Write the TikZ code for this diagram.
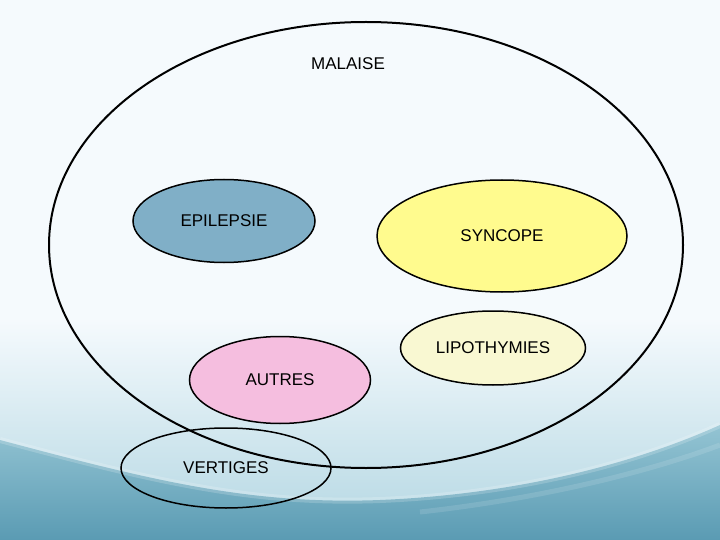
\documentclass[tikz,border=0pt]{standalone}
\usepackage{fontspec}
\setmainfont{Liberation Sans}
\usetikzlibrary{shapes.geometric}
\definecolor{bgtop}{HTML}{F5FAFD}
\definecolor{bgmid}{HTML}{B2D6E2}
\definecolor{wavetop}{HTML}{94C4D3}
\definecolor{wavebot}{HTML}{5A9BB3}
\definecolor{epicol}{HTML}{80AFC7}
\definecolor{syncol}{HTML}{FFFB8E}
\definecolor{lipcol}{HTML}{F9F8D2}
\definecolor{autcol}{HTML}{F5BEDF}
\tikzset{
  blob/.style={ellipse, draw=black, line width=1.5pt, inner sep=0pt, font=\fontsize{17}{20}\selectfont},
  lbl/.style={font=\fontsize{17}{20}\selectfont, inner sep=0pt}
}
\begin{document}
\begin{tikzpicture}[x=1pt,y=-1pt]
\useasboundingbox (0,0) rectangle (720,540);
% background
\fill[bgtop] (0,0) rectangle (720,320);
\shade[top color=bgtop, bottom color=bgmid] (0,320) rectangle (720,540);
\shade[top color=wavetop, bottom color=wavebot]
  (0,440) .. controls (150,480) and (250,505) .. (380,500)
  .. controls (500,495) and (620,470) .. (720,425) -- (720,540) -- (0,540) -- cycle;
\draw[white, opacity=0.18, line width=6pt]
  (0,440) .. controls (150,480) and (250,505) .. (380,500)
  .. controls (500,495) and (620,470) .. (720,425);
\draw[white, opacity=0.12, line width=5pt]
  (420,512) .. controls (530,500) and (640,475) .. (720,445);
% shapes
\node[blob, line width=2pt, minimum width=634pt, minimum height=446pt] (malaise) at (366,245) {};
\node[lbl] (malaiseLabel) at (348,64) {MALAISE};
\node[blob, fill=epicol, minimum width=182pt, minimum height=83pt] (epilepsie) at (224,221) {EPILEPSIE};
\node[blob, fill=syncol, minimum width=250pt, minimum height=112pt] (syncope) at (502,236) {SYNCOPE};
\node[blob, fill=lipcol, minimum width=185pt, minimum height=74pt] (lipo) at (493,348) {LIPOTHYMIES};
\node[blob, fill=autcol, minimum width=181pt, minimum height=87pt] (autres) at (280,380) {AUTRES};
\node[blob, minimum width=210pt, minimum height=80pt] (vertiges) at (226,468) {VERTIGES};
\end{tikzpicture}
\end{document}
